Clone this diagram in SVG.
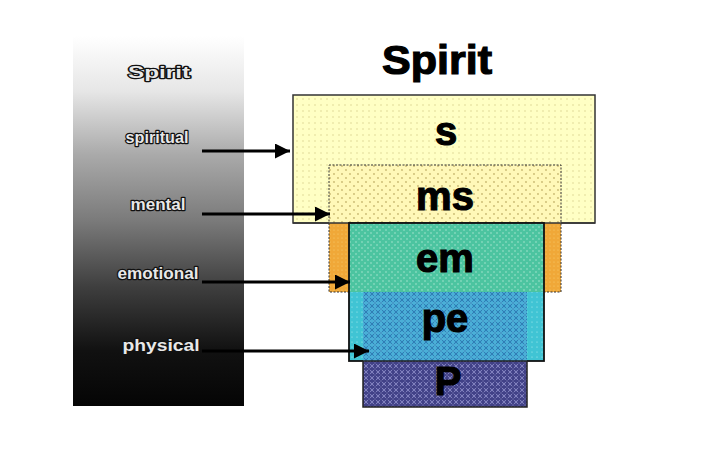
<svg xmlns="http://www.w3.org/2000/svg" width="720" height="450" viewBox="0 0 720 450">
<defs>
<linearGradient id="panel" x1="0" y1="0" x2="0" y2="1">
<stop offset="0" stop-color="#ffffff"/>
<stop offset="0.15" stop-color="#e6e6e6"/>
<stop offset="0.32" stop-color="#aaaaaa"/>
<stop offset="0.5" stop-color="#7a7a7a"/>
<stop offset="0.68" stop-color="#3e3e3e"/>
<stop offset="0.85" stop-color="#111111"/>
<stop offset="1" stop-color="#050505"/>
</linearGradient>
<pattern id="yDots" width="6" height="6" patternUnits="userSpaceOnUse">
<rect width="6" height="6" fill="#FFFFC4"/>
<circle cx="3" cy="3" r="0.7" fill="#d8cf8a"/>
</pattern>
<pattern id="msDots" width="8" height="8" patternUnits="userSpaceOnUse">
<rect width="8" height="8" fill="#FFF8B8"/>
<circle cx="2" cy="2" r="0.9" fill="#c8b870"/>
<circle cx="6" cy="6" r="0.9" fill="#c8b870"/>
</pattern>
<pattern id="oDots" width="4" height="4" patternUnits="userSpaceOnUse">
<rect width="4" height="4" fill="#F0A838"/>
<circle cx="2" cy="2" r="0.6" fill="#f8d070"/>
</pattern>
<pattern id="tDots" width="6" height="6" patternUnits="userSpaceOnUse">
<rect width="6" height="6" fill="#4CC4A0"/>
<circle cx="2" cy="2" r="0.7" fill="#b8ecd8"/>
<circle cx="5" cy="5" r="0.7" fill="#b8ecd8"/>
</pattern>
<pattern id="cDots" width="5" height="5" patternUnits="userSpaceOnUse">
<rect width="5" height="5" fill="#40C4D4"/>
<circle cx="2" cy="2" r="0.6" fill="#b0eef0"/>
</pattern>
<pattern id="bHatch" width="6" height="6" patternUnits="userSpaceOnUse">
<rect width="6" height="6" fill="#44AAD4"/>
<path d="M0 0L6 6M6 0L0 6" stroke="#2a6aa8" stroke-width="0.7"/>
<path d="M0 3H6M3 0V6" stroke="#60c0e0" stroke-width="0.5"/>
</pattern>
<pattern id="pHatch" width="6" height="6" patternUnits="userSpaceOnUse">
<rect width="6" height="6" fill="#4A4A90"/>
<path d="M0 0L6 6M6 0L0 6" stroke="#9898d0" stroke-width="0.7"/>
<path d="M0 3H6M3 0V6" stroke="#2c2c70" stroke-width="0.6"/>
</pattern>
<marker id="arr" viewBox="0 0 10 10" refX="10" refY="5" markerWidth="5" markerHeight="5" orient="auto" markerUnits="strokeWidth">
<path d="M0 0L10 5L0 10Z" fill="#000"/>
</marker>
<style>
.big{font-family:"Liberation Sans",Arial,sans-serif;font-weight:bold;font-size:40px;fill:#000;stroke:#000;stroke-width:1.2;text-anchor:middle}
.lbl{font-family:"Liberation Sans",Arial,sans-serif;font-weight:bold;font-size:16px;text-anchor:middle;fill:#e8e8e8;stroke:#111;stroke-width:2.4;paint-order:stroke;stroke-linejoin:round}
.conn{stroke:#000;stroke-width:3;fill:none;marker-end:url(#arr)}
</style>
</defs>
<rect width="720" height="450" fill="#fff"/>
<g id="panel-bg">
<rect x="73" y="36" width="171" height="370" fill="url(#panel)"/>
</g>
<g id="labels">
<text class="lbl" x="159" y="78" textLength="62" lengthAdjust="spacingAndGlyphs">Spirit</text>
<text class="lbl" x="157" y="143" textLength="63" lengthAdjust="spacingAndGlyphs">spiritual</text>
<text class="lbl" x="158" y="210" textLength="55" lengthAdjust="spacingAndGlyphs">mental</text>
<text class="lbl" x="158" y="279" textLength="81" lengthAdjust="spacingAndGlyphs">emotional</text>
<text class="lbl" x="161" y="351" textLength="77" lengthAdjust="spacingAndGlyphs">physical</text>
</g>
<text class="big" x="437" y="74" textLength="110" lengthAdjust="spacingAndGlyphs">Spirit</text>
<g id="node-s">
<rect x="293" y="95" width="302" height="128" fill="url(#yDots)" stroke="#333" stroke-width="1.5"/>
<text class="big" x="446" y="145">s</text>
</g>
<g id="node-ms">
<rect x="329" y="223" width="232" height="69" fill="url(#oDots)"/>
<rect x="329" y="165" width="232" height="58" fill="url(#msDots)"/>
<rect x="329" y="165" width="232" height="127" fill="none" stroke="#333" stroke-width="1" stroke-dasharray="2 1.5"/>
<line x1="293" y1="223" x2="595" y2="223" stroke="#333" stroke-width="1.5"/>
<text class="big" x="445" y="210">ms</text>
</g>
<g id="node-em">
<rect x="349" y="223" width="195" height="69" fill="url(#tDots)"/>
<rect x="349" y="292" width="195" height="69" fill="url(#cDots)"/>
<rect x="349" y="223" width="195" height="138" fill="none" stroke="#111" stroke-width="1.8"/>
<text class="big" x="445" y="272">em</text>
</g>
<g id="node-pe">
<rect x="363" y="292" width="164" height="69" fill="url(#bHatch)"/>
<text class="big" x="445" y="332">pe</text>
</g>
<g id="node-p">
<rect x="363" y="361" width="164" height="46" fill="url(#pHatch)" stroke="#222" stroke-width="1.5"/>
<text class="big" x="448" y="395" font-size="38">P</text>
</g>
<g id="connectors">
<line class="conn" x1="202" y1="151" x2="290" y2="151"/>
<line class="conn" x1="202" y1="214" x2="330" y2="214"/>
<line class="conn" x1="202" y1="282" x2="350" y2="282"/>
<line class="conn" x1="202" y1="351" x2="369" y2="351"/>
</g>
</svg>
